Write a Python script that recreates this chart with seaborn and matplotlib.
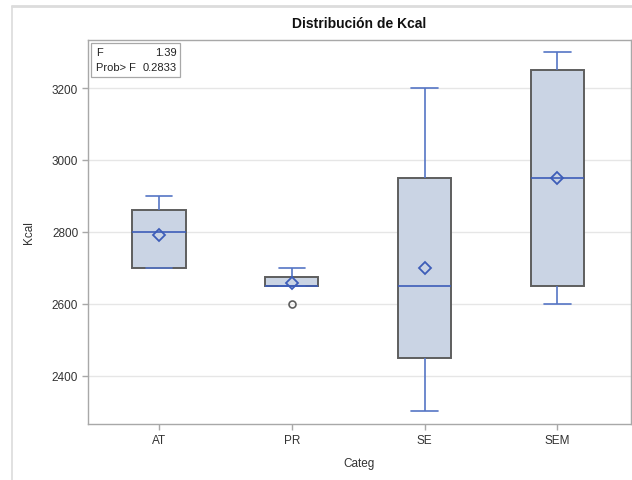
import numpy as np
import pandas as pd
import seaborn as sns
import matplotlib
matplotlib.use("Agg")
import matplotlib.pyplot as plt
from matplotlib.patches import Rectangle
from matplotlib.lines import Line2D

# ---- data ----
categories = ["AT", "PR", "SE", "SEM"]
kcal_AT = [2700, 2700, 2800, 2860, 2900]
kcal_PR = [2600, 2650, 2650, 2650, 2650, 2700, 2700]
kcal_SE = [2300, 2400, 2450, 2500, 2650, 2900, 2950, 2950, 3200]
kcal_SEM = [2600, 2650, 2950, 3250, 3300]
y_ticks = [2400, 2600, 2800, 3000, 3200]
f_value = "1.39"
p_value = "0.2833"
title = "Distribución de Kcal"
x_label = "Categ"
y_label = "Kcal"

groups = [kcal_AT, kcal_PR, kcal_SE, kcal_SEM]
df = pd.DataFrame({
    "Categ": np.concatenate([[c] * len(v) for c, v in zip(categories, groups)]),
    "Kcal": np.concatenate(groups),
})

sns.set_theme(style="white")
plt.rcParams["font.family"] = ["Liberation Sans", "DejaVu Sans"]

W, H = 632, 481
fig = plt.figure(figsize=(W / 100, H / 100), dpi=100)
ax_l, ax_r, ax_t, ax_b = 88, 631, 41, 425
ax = fig.add_axes([ax_l / W, 1 - ax_b / H, (ax_r - ax_l) / W, (ax_b - ax_t) / H])

fill = "#CAD4E4"
edge = "#5E5E5E"
blue = "#5575C5"
dblue = "#3D5DB8"

ax.set_axisbelow(True)
ax.yaxis.grid(True, color="#E6E6E6", linewidth=1.0)

sns.boxplot(
    data=df, x="Categ", y="Kcal", order=categories, ax=ax,
    width=0.4, color=fill, saturation=1, showmeans=True,
    boxprops=dict(facecolor=fill, edgecolor=edge, linewidth=1.4),
    whiskerprops=dict(color=blue, linewidth=1.2),
    capprops=dict(color=blue, linewidth=1.2),
    medianprops=dict(color=dblue, linewidth=1.2),
    meanprops=dict(marker="D", markersize=6, markerfacecolor="none",
                   markeredgecolor=dblue, markeredgewidth=1.3),
    flierprops=dict(marker="o", markersize=5, markerfacecolor="none",
                    markeredgecolor=edge, markeredgewidth=1.2),
)

ax.set_xlim(-0.535, 3.555)
ax.set_ylim(2265, 3334)
ax.set_yticks(y_ticks)
ax.set_yticklabels([str(t) for t in y_ticks])

for s in ax.spines.values():
    s.set_color("#A8A8A8")
    s.set_linewidth(1.0)

ax.tick_params(axis="both", which="major", length=4, width=1, color="#A8A8A8",
               labelsize=8.5, labelcolor="#333333", pad=3, bottom=True, left=True)

ax.set_xlabel(x_label, fontsize=8.5, color="#333333")
ax.set_ylabel(y_label, fontsize=8.5, color="#333333")
ax.xaxis.set_label_coords(0.5, -0.085)
ax.yaxis.set_label_coords(-0.098, 0.5)

# stats inset
ax.add_patch(Rectangle((0.0055, 0.904), 0.164, 0.088, transform=ax.transAxes,
                       facecolor="white", edgecolor="#A8A8A8", linewidth=0.9, zorder=5))
ax.text(0.0147, 0.969, "F", transform=ax.transAxes, fontsize=8, color="#222222",
        ha="left", va="center", zorder=6)
ax.text(0.1640, 0.969, f_value, transform=ax.transAxes, fontsize=8, color="#222222",
        ha="right", va="center", zorder=6)
ax.text(0.0147, 0.930, "Prob> F", transform=ax.transAxes, fontsize=8, color="#222222",
        ha="left", va="center", zorder=6)
ax.text(0.1640, 0.930, p_value, transform=ax.transAxes, fontsize=8, color="#222222",
        ha="right", va="center", zorder=6)

fig.text(359.5 / W, 1 - 24 / H, title, ha="center", va="center",
         fontsize=10, fontweight="bold", color="#111111")

# outer frame lines of the reference screenshot
fig.add_artist(Line2D([12 / W, 1], [1 - 7 / H, 1 - 7 / H], transform=fig.transFigure,
                      color="#DCDCDC", linewidth=2))
fig.add_artist(Line2D([12 / W, 12 / W], [0, 1 - 7 / H], transform=fig.transFigure,
                      color="#DCDCDC", linewidth=1.2))

fig.savefig("out.png", dpi=100)
